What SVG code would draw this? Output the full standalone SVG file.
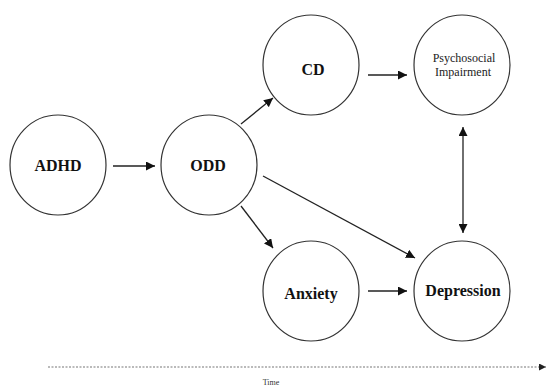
<svg xmlns="http://www.w3.org/2000/svg" width="547" height="387" viewBox="0 0 547 387">
<style>
.n{fill:#fff;stroke:#333;stroke-width:1.2}
.t{font-family:'Liberation Serif',serif;font-weight:bold;font-size:16px;fill:#111;text-anchor:middle}
.s{font-family:'Liberation Serif',serif;font-size:12px;fill:#222;text-anchor:middle}
.c{stroke:#222;stroke-width:1.3;fill:none;marker-end:url(#ah)}
</style>
<defs>
<marker id="ah" viewBox="0 0 10 10" refX="10" refY="5" markerWidth="9" markerHeight="9" markerUnits="userSpaceOnUse" orient="auto-start-reverse">
<path d="M0,0L10,5L0,10z" fill="#111"/>
</marker>
<marker id="ah2" viewBox="0 0 10 10" refX="10" refY="5" markerWidth="7" markerHeight="7" markerUnits="userSpaceOnUse" orient="auto">
<path d="M0,0L10,5L0,10z" fill="#222"/>
</marker>
</defs>
<rect width="547" height="387" fill="#fff"/>
<g id="adhd"><ellipse class="n" cx="58" cy="165" rx="48" ry="50"/><text class="t" x="58" y="171">ADHD</text></g>
<g id="odd"><ellipse class="n" cx="209" cy="165" rx="48" ry="50"/><text class="t" x="208" y="171">ODD</text></g>
<g id="cd"><ellipse class="n" cx="311" cy="65" rx="48" ry="50"/><text class="t" x="313" y="75">CD</text></g>
<g id="psych"><ellipse class="n" cx="462" cy="65" rx="48" ry="50"/><text class="s" x="464" y="62">Psychosocial</text><text class="s" x="463" y="76">Impairment</text></g>
<g id="anxiety"><ellipse class="n" cx="311" cy="291" rx="48" ry="50"/><text class="t" x="311" y="299">Anxiety</text></g>
<g id="depression"><ellipse class="n" cx="462" cy="291" rx="48" ry="50"/><text class="t" x="463" y="296">Depression</text></g>
<g id="connectors">
<line class="c" x1="113" y1="166" x2="155" y2="166"/>
<line class="c" x1="241" y1="124" x2="273" y2="98"/>
<line class="c" x1="241" y1="206" x2="273" y2="248"/>
<line class="c" x1="263" y1="176" x2="415" y2="258"/>
<line class="c" x1="368" y1="75" x2="407" y2="75"/>
<line class="c" x1="368" y1="291" x2="407" y2="291"/>
<line class="c" x1="463" y1="127" x2="463" y2="233" marker-start="url(#ah)"/>
<line x1="48" y1="367" x2="546" y2="367" stroke="#777" stroke-width="1.2" stroke-dasharray="2,1.5" marker-end="url(#ah2)"/>
</g>
<text x="271" y="385" font-family="'Liberation Serif',serif" font-size="8" fill="#333" text-anchor="middle">Time</text>
</svg>
